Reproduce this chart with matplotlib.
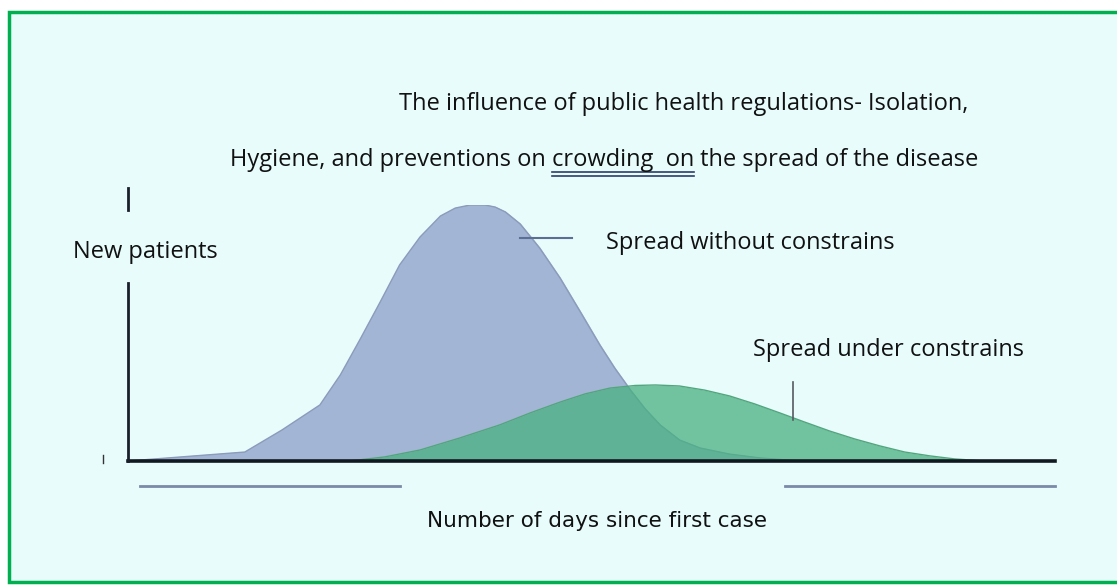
import matplotlib
matplotlib.use("Agg")
import matplotlib.pyplot as plt
from matplotlib.patches import Rectangle
from matplotlib.lines import Line2D

W, H = 1117, 586

# curve data (days since first case, relative new patients)
days_free = [0, 12.6, 16.6, 20.7, 22.9, 25.0, 27.2, 29.3, 31.5, 33.7, 35.3, 36.9, 38.5,
             39.6, 40.7, 42.3, 44.4, 46.6, 48.8, 50.9, 52.5, 54.2, 55.8, 57.4, 59.5, 61.7,
             64.9, 68.2, 72.5, 100]
patients_free = [0, 3.5, 12.1, 21.9, 33.6, 47.3, 62.1, 76.6, 87.5, 95.7, 98.8, 100, 100,
                 99.2, 97.3, 92.6, 83.2, 71.5, 58.2, 45.3, 36.3, 27.7, 20.3, 14.1, 8.2, 5.1,
                 2.7, 1.2, 0, 0]

days_limited = [0, 23.9, 27.7, 31.5, 35.8, 40.1, 43.4, 46.6, 49.3, 52.0, 54.7, 56.9, 59.5,
                62.2, 64.9, 67.6, 70.3, 73.0, 75.7, 78.4, 81.1, 83.8, 86.5, 89.2, 92.4, 100]
patients_limited = [0, 0, 1.6, 4.3, 9.0, 14.1, 18.8, 23.0, 26.2, 28.5, 29.5, 29.7, 29.3,
                    27.7, 25.4, 22.3, 18.8, 15.2, 11.7, 8.6, 5.9, 3.5, 2.0, 0.8, 0, 0]

title_1 = "The influence of public health regulations- Isolation,"
title_2_pre = "Hygiene, and preventions on "
title_2_mid = "crowding  on"
title_2_post = " the spread of the disease"
label_y = "New patients"
label_x = "Number of days since first case"
label_free = "Spread without constrains"
label_limited = "Spread under constrains"

FONT = ["Open Sans", "DejaVu Sans"]
FS = 17


def fx(px):
    return px / W


def fy(py):
    return 1 - py / H


fig = plt.figure(figsize=(W / 100, H / 100), dpi=100, facecolor="white")

# framed light cyan panel
fig.patches.append(Rectangle((fx(9), fy(582)), fx(1125 - 9), (582 - 12) / H,
                             transform=fig.transFigure, facecolor="#e8fcfc",
                             edgecolor="#00b050", linewidth=2.5, zorder=-5))

ax = fig.add_axes([fx(128), fy(461), fx(1055 - 128), (461 - 205) / H])
ax.set_xlim(0, 100)
ax.set_ylim(0, 100)
ax.axis("off")

ax.fill_between(days_free, patients_free, color="#a3b5d4", zorder=2)
ax.plot(days_free, patients_free, color="#8b9bbb", linewidth=1, zorder=2)
ax.fill_between(days_limited, patients_limited, color="#49b181", alpha=0.75, zorder=3,
                linewidth=0)
ax.plot(days_limited, patients_limited, color="#52a67e", linewidth=1, zorder=3)

# axes lines
ax.plot([0, 100], [0, 0], color="#111820", linewidth=2.6, clip_on=False, zorder=5)
ax.plot([0, 0], [0, 69.5], color="#1a1f2a", linewidth=2, clip_on=False, zorder=5)
ax.plot([0, 0], [98, 106.6], color="#1a1f2a", linewidth=2, clip_on=False, zorder=5)
ax.plot([-2.7, -2.7], [-0.8, 2.3], color="#333333", linewidth=1, clip_on=False)

# leaders to the labels
ax.plot([42.3, 47.9], [87.1, 87.1], color="#5b6e95", linewidth=1.5, zorder=4)
ax.plot([71.7, 71.7], [16.0, 30.9], color="#555a60", linewidth=1.2, zorder=4)

# bars under the x axis
ax.plot([1.3, 29.3], [-9.8, -9.8], color="#7b8aa8", linewidth=2, clip_on=False)
ax.plot([70.9, 100], [-9.8, -9.8], color="#7b8aa8", linewidth=2, clip_on=False)

fig.text(fx(684), fy(104), title_1, ha="center", va="center", fontsize=FS,
         family=FONT, color="#111111")
fig.text(fx(73), fy(252), label_y, ha="left", va="center", fontsize=FS,
         family=FONT, color="#111111")
fig.text(fx(606), fy(243), label_free, ha="left", va="center", fontsize=FS,
         family=FONT, color="#111111")
fig.text(fx(753), fy(350), label_limited, ha="left", va="center", fontsize=FS,
         family=FONT, color="#111111")
fig.text(fx(597), fy(521), label_x, ha="center", va="center", fontsize=15.5,
         family=["Liberation Sans Narrow", "DejaVu Sans"], color="#111111")

# second title line in three pieces, the middle one double underlined
renderer = fig.canvas.get_renderer()
x0 = fx(230)
pieces = []
for s in (title_2_pre, title_2_mid, title_2_post):
    t = fig.text(x0, fy(160), s, ha="left", va="center", fontsize=FS,
                 family=FONT, color="#111111")
    bb = t.get_window_extent(renderer)
    pieces.append(bb)
    x0 = bb.x1 / W
mid = pieces[1]
for py in (172, 175.5):
    fig.lines.append(Line2D([mid.x0 / W, mid.x1 / W], [fy(py), fy(py)],
                            transform=fig.transFigure, color="#2c3e6a", linewidth=1.2))

fig.savefig("out.png", dpi=100, facecolor="white")
